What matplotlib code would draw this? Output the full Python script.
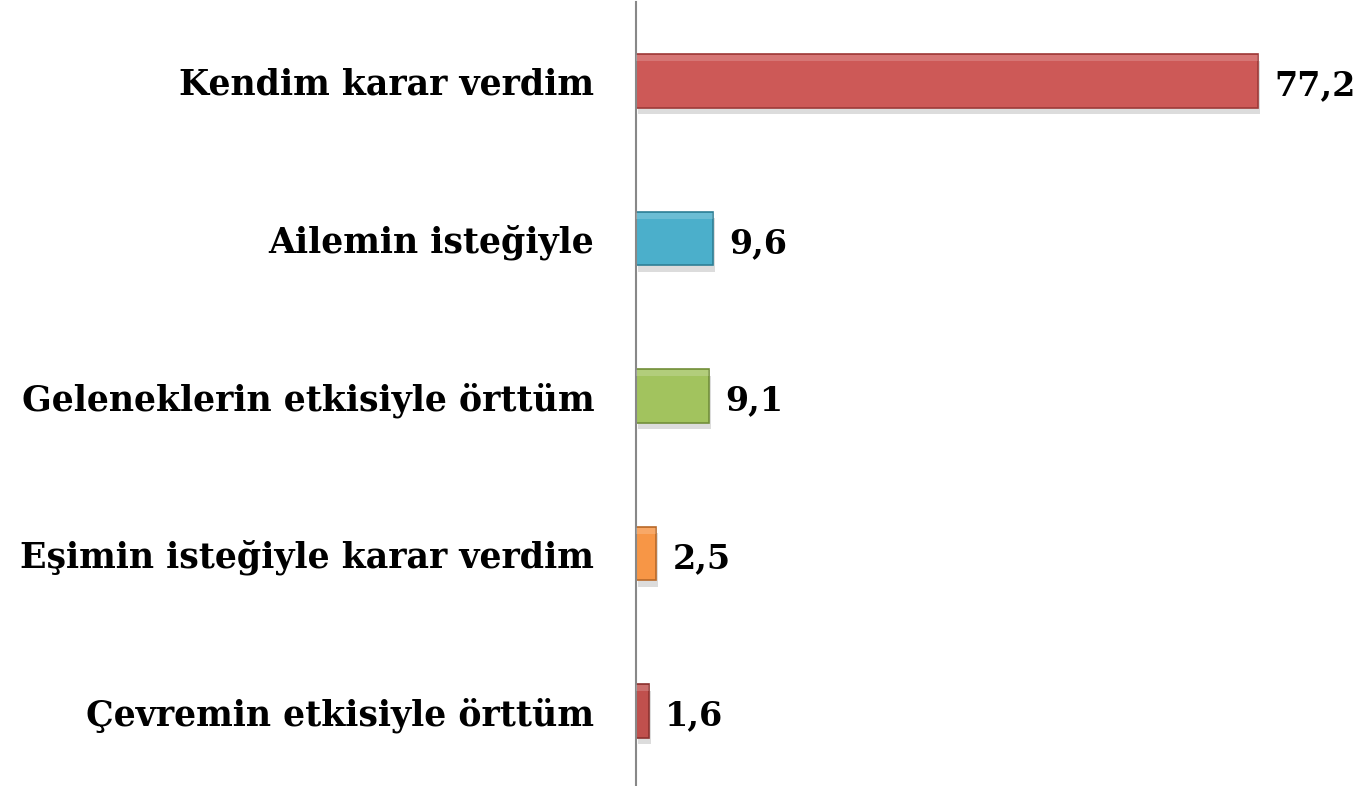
import matplotlib.pyplot as plt

# Datos
categories = ["Kendim karar verdim", "Ailemin isteğiyle", "Geleneklerin etkisiyle örttüm",
              "Eşimin isteğiyle karar verdim", "Çevremin etkisiyle örttüm"]
values = [77.2, 9.6, 9.1, 2.5, 1.6]
labels = ["77,2", "9,6", "9,1", "2,5", "1,6"]
colors = ["#CD5957", "#4BAFCB", "#A2C35E", "#F79646", "#C0504D"]
edges = ["#9E3A38", "#2F7F96", "#728F3A", "#B8692A", "#8C3230"]

fig = plt.figure(figsize=(13.55, 7.86), dpi=100)
ax = fig.add_axes([636 / 1355, 1 - 789.75 / 786, 719 / 1355, 787.5 / 786])

pos = list(range(len(categories)))
# sombra
ax.barh([p + 0.04 for p in pos], values, height=0.34, left=0.25, color="#dcdcdc", zorder=1)
ax.barh(pos, values, height=0.34, color=colors, edgecolor=edges, linewidth=1.2, zorder=2)
# brillo superior
ax.barh([p - 0.145 for p in pos], values, height=0.04, color="white", alpha=0.18, linewidth=0, zorder=3)

for p, v, t in zip(pos, values, labels):
    ax.text(v + 2.0, p + 0.03, t, va="center", ha="left", fontsize=24,
            fontweight="bold", family="DejaVu Serif")

ax.set_xlim(0, 89.2)
ax.set_ylim(len(categories) - 0.5, -0.5)
ax.set_yticks(pos)
ax.set_yticklabels(categories, fontsize=25, fontweight="bold", family="DejaVu Serif")
ax.tick_params(axis="y", length=0, pad=30)
ax.set_xticks([])
for s in ["top", "right", "bottom"]:
    ax.spines[s].set_visible(False)
ax.spines["left"].set_color("#888888")
ax.spines["left"].set_linewidth(1.5)

fig.savefig("out.png", dpi=100)
